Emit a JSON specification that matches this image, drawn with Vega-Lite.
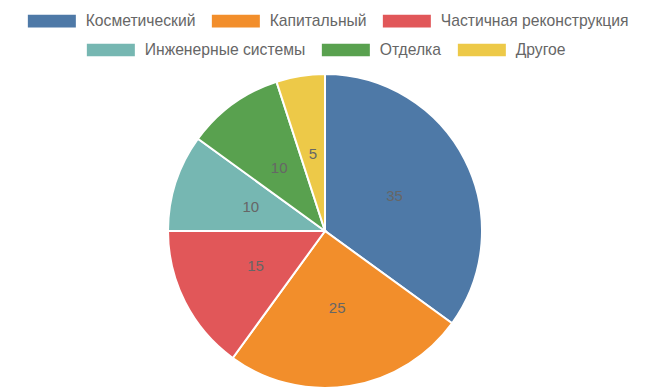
{
  "$schema": "https://vega.github.io/schema/vega-lite/v6.json",
  "width": 650,
  "height": 344,
  "padding": 0,
  "background": "white",
  "data": {"values": [
    {"cat": "Косметический", "value": 35, "order": 1},
    {"cat": "Капитальный", "value": 25, "order": 2},
    {"cat": "Частичная реконструкция", "value": 15, "order": 3},
    {"cat": "Инженерные системы", "value": 10, "order": 4},
    {"cat": "Отделка", "value": 10, "order": 5},
    {"cat": "Другое", "value": 5, "order": 6}
  ]},
  "transform": [
    {"stack": "value", "groupby": [], "sort": [{"field": "order", "order": "ascending"}], "as": ["start", "end"]}
  ],
  "layer": [
    {
      "transform": [{"filter": "datum.order <= 3"}],
      "mark": {"type": "arc", "outerRadius": 157, "stroke": "white", "strokeWidth": 2},
      "encoding": {
        "theta": {"field": "start", "type": "quantitative", "scale": {"domain": [0, 100]}},
        "theta2": {"field": "end"},
        "color": {"field": "cat", "type": "nominal",
          "scale": {"domain": ["Косметический", "Капитальный", "Частичная реконструкция"], "range": ["#4e79a7", "#f28e2b", "#e15759"]},
          "legend": {"title": null, "orient": "none", "legendX": 14, "legendY": -59, "padding": 13}}
      }
    },
    {
      "transform": [{"filter": "datum.order > 3"}],
      "mark": {"type": "arc", "outerRadius": 157, "stroke": "white", "strokeWidth": 2},
      "encoding": {
        "theta": {"field": "start", "type": "quantitative", "scale": {"domain": [0, 100]}},
        "theta2": {"field": "end"},
        "fill": {"field": "cat", "type": "nominal",
          "scale": {"domain": ["Инженерные системы", "Отделка", "Другое"], "range": ["#76b7b2", "#59a14f", "#edc948"]},
          "legend": {"title": null, "orient": "none", "legendX": 86, "legendY": -17, "padding": 0}}
      }
    },
    {
      "mark": {"type": "text", "radius": 78, "fontSize": 15, "color": "#666", "font": "Liberation Sans"},
      "encoding": {
        "theta": {"field": "value", "type": "quantitative", "stack": true, "scale": {"domain": [0, 100]}},
        "order": {"field": "order", "type": "quantitative"},
        "text": {"field": "value", "type": "quantitative"}
      }
    }
  ],
  "config": {
    "view": {"stroke": null},
    "legend": {
      "direction": "horizontal",
      "labelFont": "Liberation Sans",
      "labelFontSize": 15.7,
      "labelColor": "#666",
      "symbolType": "M-1,-0.9H5.857V0.9H-1Z",
      "symbolSize": 196,
      "symbolStrokeWidth": 0,
      "symbolOpacity": 1,
      "labelOffset": 43,
      "columnPadding": 15,
      "labelLimit": 300
    }
  }
}
